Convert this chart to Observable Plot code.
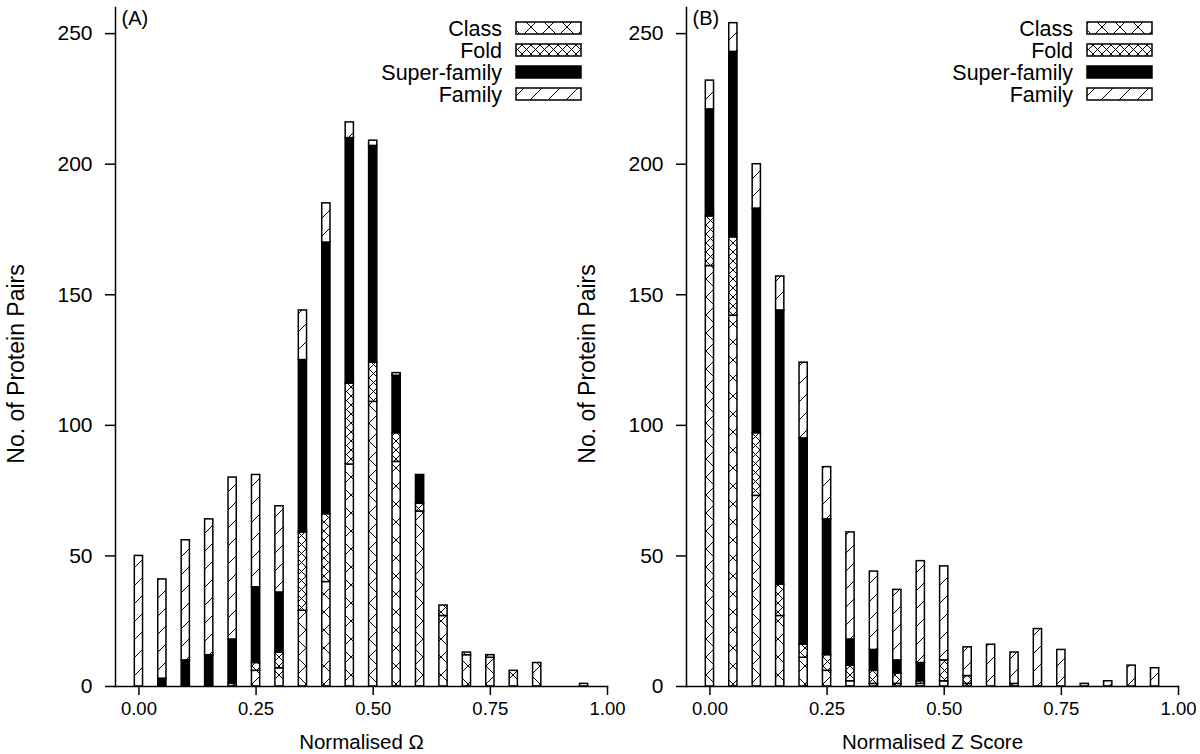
<!DOCTYPE html>
<html><head><meta charset="utf-8">
<script src="https://cdn.jsdelivr.net/npm/d3@7"></script>
<script src="https://cdn.jsdelivr.net/npm/@observablehq/plot@0.6"></script>
<style>
body{margin:0;background:#fff;}
#wrap{position:relative;width:1200px;height:754px;overflow:hidden;background:#fff;}
#wrap svg.panel{position:absolute;top:0;}
</style></head><body>
<svg width="0" height="0" style="position:absolute">
<defs>
<pattern id="pclass" patternUnits="userSpaceOnUse" width="18" height="18">
<rect width="18" height="18" fill="white"/>
<path d="M-1,-1L19,19M-1,19L19,-1" stroke="black" stroke-width="1"/>
</pattern>
<pattern id="pfold" patternUnits="userSpaceOnUse" width="9" height="9">
<rect width="9" height="9" fill="white"/>
<path d="M-1,-1L10,10M-1,10L10,-1" stroke="black" stroke-width="1"/>
</pattern>
<pattern id="pfamily" patternUnits="userSpaceOnUse" width="18" height="18">
<rect width="18" height="18" fill="white"/>
<path d="M-1,19L19,-1" stroke="black" stroke-width="1"/>
</pattern>
</defs></svg>
<div id="wrap"></div>
<script>
// ---- data ----
const bins = [0.00,0.05,0.10,0.15,0.20,0.25,0.30,0.35,0.40,0.45,0.50,0.55,0.60,0.65,0.70,0.75,0.80,0.85,0.90,0.95];
const categories = ["Class","Fold","Super-family","Family"];
const xTicks = [0,0.25,0.5,0.75,1];
const yTicks = [0,50,100,150,200,250];

// Panel (A): Normalised Omega
const omegaClass  = [0,0,0,0,0,6,7,29,40,85,109,86,67,27,12,11,6,9,0,0];
const omegaFold   = [0,0,0,0,1,3,6,30,26,31,15,11,3,4,1,1,0,0,0,0];
const omegaSuper  = [0,3,10,12,17,29,23,66,104,94,83,22,11,0,0,0,0,0,0,0];
const omegaFamily = [50,38,46,52,62,43,33,19,15,6,2,1,0,0,0,0,0,0,0,1];

// Panel (B): Normalised Z Score
const zClass  = [161,142,73,27,11,6,2,1,1,1,2,1,0,0,0,0,0,0,0,0];
const zFold   = [19,30,24,12,5,6,6,5,4,1,8,3,0,1,0,0,0,0,0,0];
const zSuper  = [41,71,86,105,79,52,10,8,5,7,0,0,0,0,0,0,0,0,0,0];
const zFamily = [11,11,17,13,29,20,41,30,27,39,36,11,16,12,22,14,1,2,8,7];

const fills = {"Class":"url(#pclass)","Fold":"url(#pfold)","Super-family":"black","Family":"url(#pfamily)"};
const FONT = '"Liberation Sans", Arial, Helvetica, sans-serif';

function panel(series, letter, xlabel, width, marginRight) {
  const rows = [];
  bins.forEach((b, i) => {
    let acc = 0;
    categories.forEach((c, k) => {
      const v = series[k][i];
      if (v > 0) rows.push({bin: b, cat: c, y1: acc, y2: acc + v});
      acc += v;
    });
  });
  const el = Plot.plot({
    width, height: 754,
    marginLeft: 115, marginRight, marginTop: 7, marginBottom: 68,
    style: {background: "transparent", fontFamily: FONT, fontSize: "19px", overflow: "visible", color: "black"},
    x: {domain: [-0.05, 1.0]},
    y: {domain: [0, 260]},
    color: {type: "identity"},
    marks: [
      Plot.rect(rows, {x1: d => d.bin - 0.025, x2: d => d.bin + 0.025, insetLeft: 7.6, insetRight: 7.6,
        y1: "y1", y2: "y2", fill: d => fills[d.cat], stroke: "black", strokeWidth: 1.5}),
      Plot.frame({anchor: "left", strokeWidth: 1.5}),
      Plot.frame({anchor: "bottom", strokeWidth: 1.5}),
      Plot.axisY({ticks: yTicks, tickSize: 10, tickPadding: 13, tickFormat: d => String(d), label: null, strokeWidth: 1.5, fontSize: 21}),
      Plot.axisX({ticks: xTicks, tickSize: 9, tickPadding: 6, tickFormat: d3.format(".2f"), label: null, strokeWidth: 1.5, fontSize: 18.5}),
      Plot.text([xlabel], {text: d => d, frameAnchor: "bottom", dy: 62, lineAnchor: "bottom", textAnchor: "middle", fontSize: 20.5}),
      Plot.text(["No. of Protein Pairs"], {text: d => d, frameAnchor: "left", rotate: -90, dx: -99, dy: 17, lineAnchor: "middle", textAnchor: "middle", fontSize: 23}),
      Plot.text([letter], {text: d => d, frameAnchor: "top-left", dx: 6, dy: 3, lineAnchor: "top", textAnchor: "start", fontSize: 20})
    ]
  });
  el.classList.add("panel");
  const lg = d3.select(el).append("g").attr("font-family", FONT).attr("font-size", 21.5);
  categories.forEach((c, k) => {
    const cy = 28 + k * 22;
    lg.append("text").attr("x", 502).attr("y", cy).attr("dy", "0.35em").attr("text-anchor", "end").attr("fill", "black").text(c);
    lg.append("rect").attr("x", 516).attr("y", cy - 6).attr("width", 65).attr("height", 12)
      .attr("fill", fills[c]).attr("stroke", "black").attr("stroke-width", 1.5);
  });
  return el;
}

const wrap = document.getElementById("wrap");
const pB = panel([zClass, zFold, zSuper, zFamily], "(B)", "Normalised Z Score", 629, 22);
pB.style.left = "571px";
wrap.appendChild(pB);
const pA = panel([omegaClass, omegaFold, omegaSuper, omegaFamily], "(A)", "Normalised \u03A9", 640, 33);
pA.style.left = "0px";
wrap.appendChild(pA);
</script>
</body></html>
